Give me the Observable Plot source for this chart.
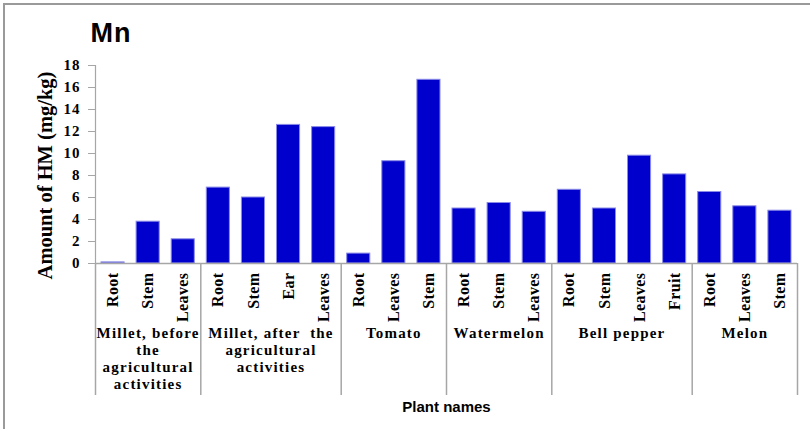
<!DOCTYPE html>
<html>
<head>
<meta charset="utf-8">
<script src="https://cdn.jsdelivr.net/npm/d3@7"></script>
<script src="https://cdn.jsdelivr.net/npm/@observablehq/plot@0.6"></script>
<style>
  html, body { margin: 0; padding: 0; background: #fff; }
  #wrap { position: relative; width: 810px; height: 429px; overflow: hidden; }
  #border { position: absolute; left: 3px; top: 3px; right: -10px; bottom: -10px;
            border-left: 2px solid #9a9a9a; border-top: 2px solid #9a9a9a; pointer-events: none; }
</style>
</head>
<body>
<div id="wrap"><div id="border"></div></div>
<script>
const title = "Mn";
const yLabel = "Amount of HM (mg/kg)";
const xLabel = "Plant names";
const groups = [
  "Millet, before\nthe\nagricultural\nactivities",
  "Millet, after  the\nagricultural\nactivities",
  "Tomato",
  "Watermelon",
  "Bell pepper",
  "Melon"
];
const parts = [
  ["Root", "Stem", "Leaves"],
  ["Root", "Stem", "Ear", "Leaves"],
  ["Root", "Leaves", "Stem"],
  ["Root", "Stem", "Leaves"],
  ["Root", "Stem", "Leaves", "Fruit"],
  ["Root", "Leaves", "Stem"]
];
const values = [
  [0.1, 3.8, 2.2],
  [6.9, 6.0, 12.6, 12.4],
  [0.9, 9.3, 16.7],
  [5.0, 5.5, 4.7],
  [6.7, 5.0, 9.8, 8.1],
  [6.5, 5.2, 4.8]
];
const yTicks = [0, 2, 4, 6, 8, 10, 12, 14, 16, 18];

// build rows
const rows = [];
const groupRows = [];
let idx = 0;
groups.forEach((g, gi) => {
  const start = idx;
  parts[gi].forEach((p, pi) => {
    rows.push({i: idx, group: g, part: p, value: values[gi][pi]});
    idx++;
  });
  groupRows.push({name: g, start, end: idx});
});
const bounds = [0, ...groupRows.map(d => d.end)];

const serif = "'Liberation Serif', 'Times New Roman', serif";
const sans = "'Liberation Sans', Arial, sans-serif";
const gray = "#a6a6a6";

const chart = Plot.plot({
  width: 810,
  height: 429,
  marginLeft: 95,
  marginRight: 13,
  marginTop: 65,
  marginBottom: 166,
  style: {background: "transparent", color: "black", fontFamily: serif},
  x: {domain: [0, rows.length], axis: null},
  y: {domain: [0, 18], axis: null},
  marks: [
    Plot.rectY(rows, {x1: d => d.i, x2: d => d.i + 1, y: "value", insetLeft: 6, insetRight: 6,
      fill: "#0000CC", stroke: "#8a8ae8", strokeWidth: 1}),
    Plot.ruleX([0], {stroke: gray, strokeWidth: 1.2}),
    Plot.ruleY([0], {stroke: gray, strokeWidth: 1.5}),
    Plot.ruleX(bounds, {x: d => d, y1: 0, y2: -12, stroke: gray, strokeWidth: 1.5}),
    Plot.axisY({ticks: yTicks, tickSize: 7, tickPadding: 8, stroke: gray, fill: "black",
      fontFamily: serif, fontWeight: "bold", fontSize: 15, label: null}),
    Plot.text(rows, {x: d => d.i + 0.5, text: "part", frameAnchor: "bottom", rotate: -90,
      textAnchor: "end", lineAnchor: "middle", dy: 9, fontFamily: serif, fontWeight: "bold",
      fontSize: 16, fill: "black"}),
    Plot.text(groupRows, {x: d => (d.start + d.end) / 2, text: "name", frameAnchor: "bottom",
      lineAnchor: "top", dy: 62, lineHeight: 1.15, fontFamily: serif, fontWeight: "bold",
      fontSize: 15, fill: "black"}),
    Plot.text([yLabel], {text: d => d, frameAnchor: "left", rotate: -90, dx: -50, dy: 11,
      textAnchor: "middle", lineAnchor: "middle", fontFamily: serif, fontWeight: "bold",
      fontSize: 20.5, fill: "black"}),
    Plot.text([title], {text: d => d, frameAnchor: "top-left", textAnchor: "start", lineAnchor: "middle",
      dx: -5, dy: -32, fontFamily: sans, fontWeight: "bold", fontSize: 27, fill: "black"}),
    Plot.text([xLabel], {text: d => d, frameAnchor: "bottom", lineAnchor: "middle", dy: 144,
      fontFamily: sans, fontWeight: "bold", fontSize: 15, fill: "black"})
  ]
});
chart.style.position = "absolute";
chart.style.left = "0";
chart.style.top = "0";
document.getElementById("wrap").appendChild(chart);

// letter spacing tweaks to match the reference's wide lettering
const groupFlat = new Set(groups.map(g => g.replace(/\n/g, "")));
const partSet = new Set(parts.flat());
const tickSet = new Set(yTicks.map(String));
chart.querySelectorAll("text").forEach(el => {
  const t = el.textContent;
  if (groupFlat.has(t)) el.style.letterSpacing = "1.2px";
  else if (partSet.has(t)) el.style.letterSpacing = "0.4px";
  else if (tickSet.has(t)) el.style.letterSpacing = "1px";
  else if (t === title) el.style.letterSpacing = "1px";
});
</script>
</body>
</html>
